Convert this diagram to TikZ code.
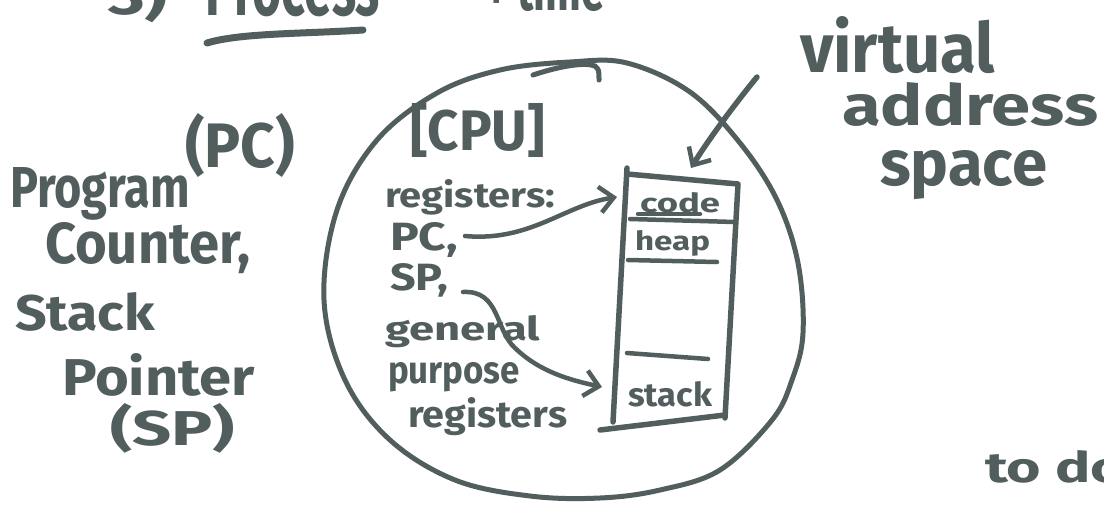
\documentclass[tikz,border=0pt]{standalone}
\usepackage{fontspec}
\setmainfont{Fira Sans}
\usetikzlibrary{arrows.meta}
\definecolor{ink}{RGB}{82,94,94}
% #1 width, #2 height above the baseline, #3 text
\newcommand\hw[3]{\resizebox{#1pt}{#2pt}{\bfseries #3}}
\tikzset{
  txt/.style={inner sep=0pt, outer sep=0pt, anchor=base west, text=ink},
  pen/.style={draw=ink, line width=5.5pt, line cap=round, line join=round},
  thinpen/.style={draw=ink, line width=4.5pt, line cap=round, line join=round},
  vtip/.style={-{Straight Barb[length=14pt, width=26pt, line width=4.5pt]}}
}
\begin{document}
\begin{tikzpicture}[x=1pt, y=-1pt]
\useasboundingbox[fill=white] (0,0) rectangle (1104,504);

% heading (runs off the top edge)
\node[txt] (num)  at (108,14) {\hw{60}{45}{3)}};
\node[txt] (proc) at (205,15) {\hw{175}{55}{Process}};
\node[txt] (plus) at (485,10) {\hw{120}{50}{+ time}};
\draw[pen, line width=7pt] (207,43) .. controls (240,33) and (300,34) .. (363,30);

% left notes
\node[txt] (pcn)  at (185,167) {\hw{110}{54}{(PC)}};
\node[txt] (prog) at (10,207)  {\hw{180}{40}{Program}};
\node[txt] (cnt)  at (45,263)  {\hw{205}{41}{Counter,}};
\node[txt] (stk)  at (15,330)  {\hw{140}{38}{Stack}};
\node[txt] (ptr)  at (62,395)  {\hw{193}{42}{Pointer}};
\node[txt] (spn)  at (110,445) {\hw{125}{42}{(SP)}};

% process blob
\draw[pen, line width=5pt] plot[smooth cycle, tension=0.6] coordinates {
  (627,63) (690,92) (740,143) (777,200) (798,263) (803,333) (792,380)
  (772,420) (720,470) (660,490) (600,498) (530,496) (455,480) (390,440)
  (345,380) (324,300) (337,210) (377,140) (437,93) (500,70) (570,62)};
\draw[pen, line width=5pt] (533,75) .. controls (560,66) and (585,62) .. (595,66) .. controls (599,70) .. (599,80);

% CPU contents
\node[txt] (cpu)  at (410,150) {\hw{135}{47}{[CPU]}};
\node[txt] (regs) at (385,207) {\hw{170}{28}{registers:}};
\node[txt] (pc)   at (390,250) {\hw{68}{28}{PC,}};
\node[txt] (sp)   at (390,290) {\hw{58}{27}{SP,}};
\node[txt] (gen)  at (385,340) {\hw{155}{25}{general}};
\node[txt] (purp) at (388,383) {\hw{132}{21}{purpose}};
\node[txt] (regs2) at (408,427) {\hw{159}{30}{registers}};

% address space column
\draw[pen] (627,168) -- (613,422);
\draw[pen] (627,174) -- (738,184) -- (725,418);
\draw[pen] (600,430) -- (725,415);
\draw[thinpen] (630,219) -- (735,222);
\draw[thinpen] (628,260) -- (717,262);
\draw[thinpen] (627,353) -- (708,359);
\node[txt] (code)  at (640,212) {\hw{80}{20}{code}};
\draw[thinpen] (638,214) -- (700,214);
\node[txt] (heap)  at (635,250) {\hw{75}{20}{heap}};
\node[txt] (stack) at (628,406) {\hw{84}{25}{stack}};

% virtual address space label
\node[txt] (virt) at (800,72)  {\hw{195}{56}{virtual}};
\node[txt] (addr) at (842,125) {\hw{256}{43}{address}};
\node[txt] (spc)  at (880,185) {\hw{167}{35}{space}};

\coordinate (vfrom) at (757,77);
\coordinate (vto)   at (691,168);
\draw[pen, vtip] (vfrom) .. controls (730,110) and (705,145) .. (vto);

% register arrows
\coordinate (pcfrom) at (465,236);
\coordinate (pcto)   at (617,197);
\draw[thinpen, vtip] (pcfrom) .. controls (530,242) and (565,205) .. (pcto);
\coordinate (spfrom) at (463,292);
\coordinate (spmid)  at (515,348);
\coordinate (spto)   at (602,387);
\draw[thinpen, vtip] (spfrom) .. controls (500,290) and (495,330) .. (spmid)
  .. controls (540,372) and (570,380) .. (spto);

% footnote (runs off the right edge)
\node[txt] (todo) at (985,482) {\hw{140}{32}{to do}};
\end{tikzpicture}
\end{document}
